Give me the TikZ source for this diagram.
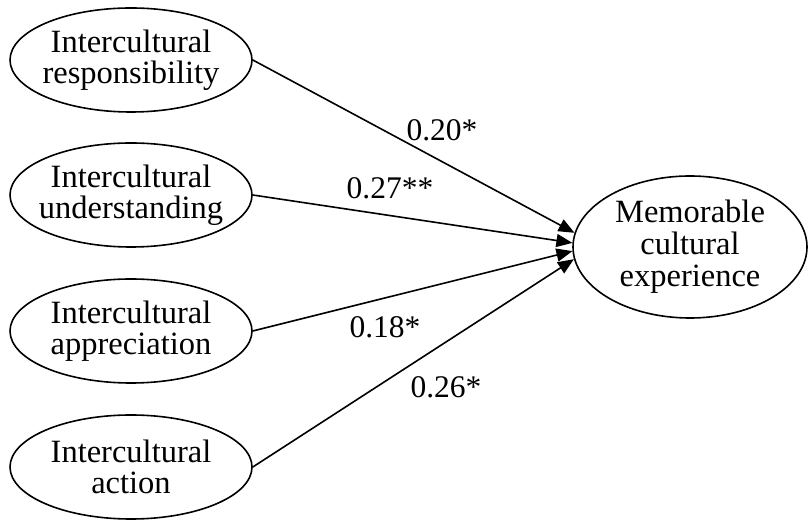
\documentclass[tikz,border=0pt]{standalone}
\usepackage{fontspec}
\setmainfont{Liberation Serif}
\usetikzlibrary{shapes.geometric,arrows.meta}
\begin{document}
\begin{tikzpicture}[x=1pt,y=1pt,
  latent/.style={ellipse,draw,line width=1.6pt,inner xsep=-40pt,inner ysep=-10pt,minimum width=242pt,minimum height=104pt,align=center,font=\fontsize{32.5}{31}\selectfont},
  bigellipse/.style={ellipse,draw,line width=1.6pt,inner xsep=-40pt,inner ysep=-10pt,minimum width=234pt,minimum height=142pt,align=center,font=\fontsize{32.5}{32}\selectfont},
  effect/.style={line width=1.6pt,-{Triangle[length=16pt,width=13pt]}},
  coef/.style={font=\fontsize{31.5}{31.5}\selectfont,inner sep=0pt}]
\useasboundingbox (0,0) rectangle (810,524);
\node[latent] (A) at (131,464) {Intercultural\\responsibility};
\node[latent] (B) at (131,329) {Intercultural\\understanding};
\node[latent] (C) at (131,193) {Intercultural\\appreciation};
\node[latent] (D) at (131,57) {Intercultural\\action};
\node[bigellipse] (M) at (690,277) {Memorable\\cultural\\experience};
\draw[effect] (A.east) -- (M.173.5);
\draw[effect] (B.east) -- (M.178);
\draw[effect] (C.east) -- (M.182.5);
\draw[effect] (D.east) -- (M.186.5);
\node[coef] (ca) at (442,394) {0.20*};
\node[coef] (cb) at (390,336) {0.27**};
\node[coef] (cc) at (385,197) {0.18*};
\node[coef] (cd) at (446,137) {0.26*};
\end{tikzpicture}
\end{document}
